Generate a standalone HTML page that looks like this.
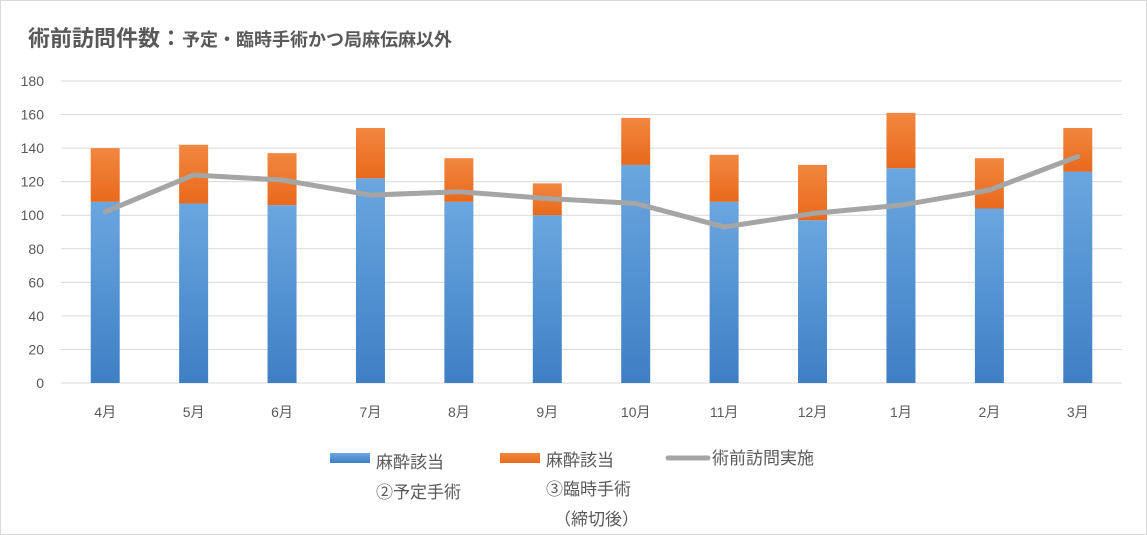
<!DOCTYPE html>
<html><head><meta charset="utf-8"><style>
body{margin:0;background:#fff;font-family:"Liberation Sans","Noto Sans CJK JP",sans-serif;}
#wrap{position:relative;width:1147px;height:535px;overflow:hidden;}
</style></head><body>
<div id="wrap">
<svg id="chart" width="1147" height="535" font-family="Liberation Sans, Noto Sans CJK JP, sans-serif">
<defs>
<linearGradient id="gb" x1="0" y1="0" x2="0" y2="1"><stop offset="0" stop-color="#6aa6e0"/><stop offset="1" stop-color="#3e7fc4"/></linearGradient>
<linearGradient id="go" x1="0" y1="0" x2="0" y2="1"><stop offset="0" stop-color="#f2873f"/><stop offset="1" stop-color="#e8691c"/></linearGradient>
</defs>
<rect x="0.5" y="0.5" width="1146" height="534" fill="#fff" stroke="#d9d9d9"/>
<text x="28" y="46" fill="#595959" font-weight="bold"><tspan font-size="22">術前訪問件数：</tspan><tspan font-size="18">予定・臨時手術かつ局麻伝麻以外</tspan></text>
<g id="grid"></g><g id="bars"></g><g id="line"></g><g id="labels"></g>
<g fill="#595959" font-size="17">
<rect x="330" y="453" width="40" height="10" fill="url(#gb)"/>
<text x="376" y="468">麻酔該当</text>
<text x="376" y="498">②予定手術</text>
<rect x="500" y="453" width="40" height="10" fill="url(#go)"/>
<text x="546" y="466">麻酔該当</text>
<text x="546" y="495">③臨時手術</text>
<text x="554" y="525">（締切後）</text>
<line x1="668" y1="458" x2="708" y2="458" stroke="#a5a5a5" stroke-width="5" stroke-linecap="round"/>
<text x="712" y="464">術前訪問実施</text>
</g>
</svg>
</div>
<script>
const categories=["4月","5月","6月","7月","8月","9月","10月","11月","12月","1月","2月","3月"];
const planned=[108,107,106,122,108,100,130,108,97,128,104,126];
const emergency=[32,35,31,30,26,19,28,28,33,33,30,26];
const visits=[102,124,121,112,114,110,107,93,101,106,115,135];
const yTicks=[0,20,40,60,80,100,120,140,160,180];
const NS="http://www.w3.org/2000/svg";
const x0=61,x1=1122,y0=383,y1=81,yMax=180;
const band=(x1-x0)/categories.length;
const xc=i=>x0+band*(i+0.5);
const y=v=>y0-(v/yMax)*(y0-y1);
function mk(t,a,p){const e=document.createElementNS(NS,t);for(const k in a)e.setAttribute(k,a[k]);p.appendChild(e);return e;}
const grid=document.getElementById('grid'),bars=document.getElementById('bars'),line=document.getElementById('line'),labels=document.getElementById('labels');
yTicks.forEach(v=>{
 const l=mk('line',{x1:x0,x2:x1,y1:y(v),y2:y(v),stroke:'#d9d9d9','stroke-width':1},grid);
 
 
 const t=mk('text',{x:44,y:y(v)+5,'text-anchor':'end','font-size':14,fill:'#595959'},labels);
 t.textContent=v;
 
 
});
const bw=29;
categories.forEach((c,i)=>{
 const b=mk('rect',{x:xc(i)-bw/2,y:y(planned[i]),width:bw,height:y(0)-y(planned[i]),fill:'url(#gb)'},bars);
 
 
 const tot=planned[i]+emergency[i];
 const o=mk('rect',{x:xc(i)-bw/2,y:y(tot),width:bw,height:y(planned[i])-y(tot),fill:'url(#go)'},bars);
 
 
 const t=mk('text',{x:xc(i),y:417,'text-anchor':'middle','font-size':14,fill:'#595959'},labels);
 t.textContent=c;
 
 
});
const pts=visits.map((v,i)=>xc(i)+','+y(v)).join(' ');
const pl=mk('polyline',{points:pts,fill:'none',stroke:'#a5a5a5','stroke-width':5,'stroke-linejoin':'round','stroke-linecap':'round'},line);


</script>
</body></html>
